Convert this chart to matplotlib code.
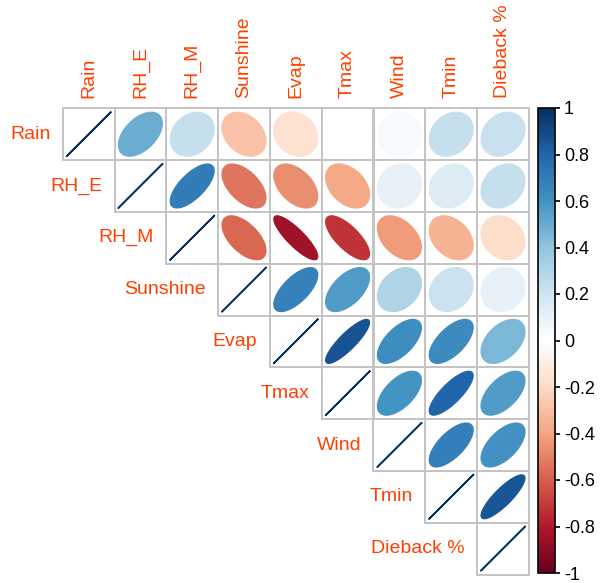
import matplotlib
matplotlib.use("Agg")
import matplotlib.pyplot as plt
import numpy as np
from matplotlib.colors import LinearSegmentedColormap, Normalize
from matplotlib.patches import Polygon, Rectangle
from matplotlib.cm import ScalarMappable

plt.rcParams['font.family'] = ['Liberation Sans', 'DejaVu Sans']

labels = ["Rain", "RH_E", "RH_M", "Sunshine", "Evap", "Tmax", "Wind", "Tmin", "Dieback %"]

# upper triangle correlations, row by row (excluding diagonal)
upper_rows = [
    [0.49, 0.23, -0.30, -0.17, -0.01, 0.03, 0.23, 0.22],
    [0.69, -0.54, -0.47, -0.39, 0.10, 0.15, 0.23],
    [-0.58, -0.85, -0.73, -0.43, -0.34, -0.19],
    [0.67, 0.56, 0.30, 0.21, 0.10],
    [0.86, 0.62, 0.63, 0.45],
    [0.59, 0.80, 0.57],
    [0.68, 0.60],
    [0.85],
]

n = len(labels)
corr = np.eye(n)
for i, row in enumerate(upper_rows):
    for k, v in enumerate(row):
        corr[i, i + 1 + k] = v
        corr[i + 1 + k, i] = v

cmap = LinearSegmentedColormap.from_list("RdBu_corr", [
    "#67001F", "#B2182B", "#D6604D", "#F4A582", "#FDDBC7", "#FFFFFF",
    "#D1E5F0", "#92C5DE", "#4393C3", "#2166AC", "#053061"], N=200)
norm = Normalize(-1, 1)

W, H = 600, 583
fig = plt.figure(figsize=(W / 100, H / 100), dpi=100)

x0, y0, cs = 62.7, 108.3, 51.8
ax = fig.add_axes([0, 0, 1, 1])
ax.set_xlim(-x0 / cs, (W - x0) / cs)
ax.set_ylim((H - y0) / cs, -y0 / cs)
ax.axis("off")

red = "#FF4000"


def ellipse_pts(rho, m=99):
    t = np.linspace(0, 2 * np.pi, m)
    d = np.arccos(np.clip(rho, -1, 1))
    x = np.cos(t + d / 2) / 2
    y = np.cos(t - d / 2) / 2
    return 0.85 * x, 0.85 * y


for i in range(n):
    for j in range(i, n):
        rho = corr[i, j]
        ex, ey = ellipse_pts(rho)
        cx, cy = j + 0.5, i + 0.5
        col = cmap(norm(rho))
        if i == j:
            ax.plot(cx + ex, cy - ey, color=col, lw=1.2, zorder=2)
        else:
            ax.add_patch(Polygon(np.column_stack([cx + ex, cy - ey]),
                                 closed=True, facecolor=col, edgecolor=col,
                                 lw=0.8, zorder=2))
        ax.add_patch(Rectangle((j, i), 1, 1, fill=False, edgecolor="#C4C4C4",
                               lw=1.4, zorder=3))

for k, lab in enumerate(labels):
    ax.text(k + 0.5, -0.2, lab, rotation=90, ha="center", va="bottom",
            color=red, fontsize=14)
    ax.text(k - 0.24, k + 0.5, lab, ha="right", va="center",
            color=red, fontsize=14)

cax = fig.add_axes([538 / W, (H - 573) / H, 17 / W, 465 / H])
cb = fig.colorbar(ScalarMappable(norm=norm, cmap=cmap), cax=cax)
cb.set_ticks(np.round(np.arange(-1, 1.01, 0.2), 1))
cb.set_ticklabels(["-1", "-0.8", "-0.6", "-0.4", "-0.2", "0",
                   "0.2", "0.4", "0.6", "0.8", "1"])
cb.outline.set_linewidth(1.2)
cax.tick_params(labelsize=13, length=3.5, width=1.2, pad=3)

fig.savefig("out.png", dpi=100)
